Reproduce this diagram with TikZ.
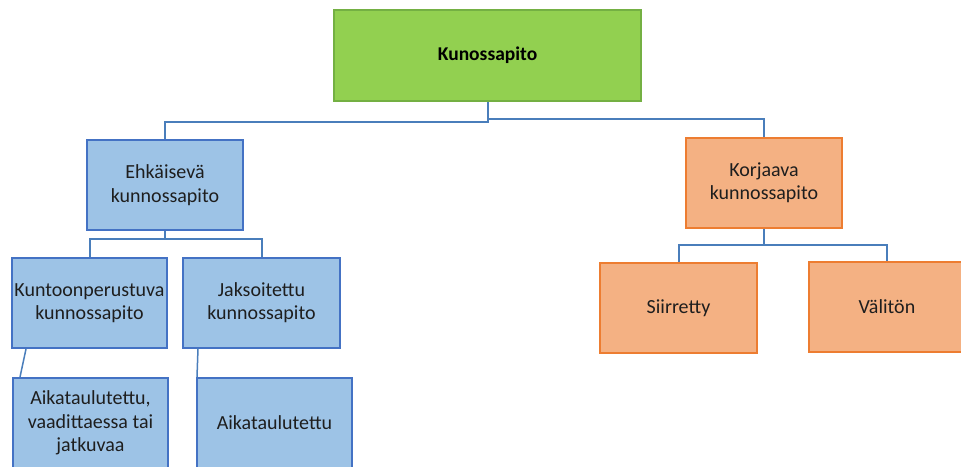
\documentclass[tikz,border=0pt]{standalone}
\usepackage{fontspec}
\setmainfont{Carlito}
\usetikzlibrary{calc}
\definecolor{topfill}{HTML}{92D050}
\definecolor{topedge}{HTML}{74B043}
\definecolor{bluefill}{HTML}{9DC3E6}
\definecolor{blueedge}{HTML}{4472C4}
\definecolor{orfill}{HTML}{F4B183}
\definecolor{oredge}{HTML}{ED7D31}
\definecolor{linkcol}{HTML}{4A7EBB}
\definecolor{txt}{HTML}{1E1E1E}
\begin{document}
\begin{tikzpicture}[x=1pt,y=-1pt,
  box/.style={draw, line width=2pt, align=center, text=txt, inner sep=0pt,
    font=\fontsize{20}{23.5}\selectfont},
  rootbox/.style={box, fill=topfill, draw=topedge, minimum width=307pt, minimum height=91pt,
    font=\fontsize{19.5}{23}\selectfont\bfseries, text=black},
  bluebox/.style={box, fill=bluefill, draw=blueedge, minimum width=155pt, minimum height=90pt},
  orbox/.style={box, fill=orfill, draw=oredge, minimum width=156pt, minimum height=90pt},
  conn/.style={draw=linkcol, line width=2pt}]
\clip (0,0) rectangle (961,466);
\fill[white] (0,0) rectangle (961,466);

% boxes
\node[rootbox] (root) at (487.5,55.5) {Kunossapito};
\node[bluebox, minimum width=156pt] (ehk) at (165,185) {Ehkäisevä\\kunnossapito};
\node[orbox] (kor) at (764,182.5) {Korjaava\\kunnossapito};
\node[bluebox] (kun) at (89.5,303) {Kuntoonperustuva\\kunnossapito};
\node[bluebox, minimum width=157pt] (jak) at (261.5,302.5) {Jaksoitettu\\kunnossapito};
\node[bluebox] (aik1) at (90.5,423) {Aikataulutettu,\\vaadittaessa tai\\jatkuvaa};
\node[bluebox] (aik2) at (274.5,423) {Aikataulutettu};
\node[orbox, minimum width=157pt] (sii) at (678.5,308) {Siirretty};
\node[orbox] (val) at (887,307) {Välitön};

% connectors
\draw[conn] (root.south) -- +(0,20) -| (ehk.north);
\draw[conn] (root.south) -- +(0,17) -| (kor.north);
\draw[conn] (ehk.south) -- +(0,8) -| (kun.north);
\draw[conn] (ehk.south) -- +(0,8) -| (jak.north);
\draw[conn] (kor.south) -- +(0,16) -| (sii.north);
\draw[conn] (kor.south) -- +(0,16) -| (val.north);
\draw[conn, line width=1.5pt] ($(kun.south west)+(15,0)$) -- ($(aik1.north west)+(8,0)$);
\draw[conn, line width=1.5pt] ($(jak.south west)+(16,0)$) -- ($(aik2.north west)+(1,0)$);
\end{tikzpicture}
\end{document}
